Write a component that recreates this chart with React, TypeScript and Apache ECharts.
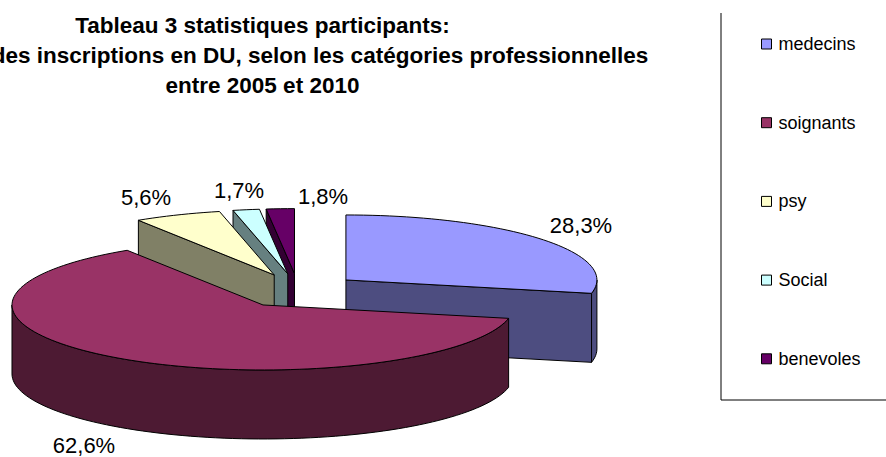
import React, { useEffect, useRef } from "react";
import * as echarts from "echarts";

const categories = ["medecins", "soignants", "psy", "Social", "benevoles"];
const percents = [28.3, 62.6, 5.6, 1.7, 1.8];
const topColors = ["#9999FF", "#993366", "#FFFFCC", "#CCFFFF", "#660066"];
const wallColors = ["#4D4D80", "#4D1A33", "#808066", "#668080", "#330033"];
const drawOrder = [4, 3, 2, 0, 1];
const labelCenters = [[581, 225], [84, 445.5], [146, 197], [239, 190], [323, 196]];
const titleLines = [
  "Tableau 3 statistiques participants:",
  "des inscriptions en DU, selon les catégories professionnelles",
  "entre 2005 et 2010",
];
const titleCenters = [[262.5, 25], [320, 55], [262.5, 85]];

const FONT = "Liberation Sans";
const CX = 298, CY = 290.8, RX = 251, RY = 65, DEPTH = 69, EXPLODE_X = 61.7, EXPLODE_Y = 17.2;
const total = percents.reduce((a, b) => a + b, 0);
const starts: number[] = [];
percents.reduce((acc, v, i) => { starts[i] = acc; return acc + (v / total) * 360; }, 0);

const rad = (d: number) => (d * Math.PI) / 180;

function renderSlice(i: number) {
  return (_params: any, api: any) => {
    const value = api.value(0) as number;
    const a0 = starts[i];
    const a1 = a0 + (value / total) * 360;
    const mid = (a0 + a1) / 2;
    const cx = CX + EXPLODE_X * Math.sin(rad(mid));
    const cy = CY - EXPLODE_Y * Math.cos(rad(mid));
    const pt = (a: number, dy = 0) => [cx + RX * Math.sin(rad(a)), cy - RY * Math.cos(rad(a)) + dy];
    const arc = (from: number, to: number, dy = 0) => {
      const n = Math.max(2, Math.ceil(Math.abs(to - from) / 2));
      const out: number[][] = [];
      for (let k = 0; k <= n; k++) out.push(pt(from + ((to - from) * k) / n, dy));
      return out;
    };
    const stroke = { stroke: "#000", lineWidth: 1, lineJoin: "round" };
    const wall = { ...stroke, fill: wallColors[i] };
    const children: any[] = [];
    const quad = (a: number) => ({
      type: "polygon",
      shape: { points: [[cx, cy], pt(a), pt(a, DEPTH), [cx, cy + DEPTH]] },
      style: wall,
    });
    const s = Math.sin(rad(a0));
    const e = Math.sin(rad(a1));
    if (s < 0) children.push(quad(a0));
    if (e > 0) children.push(quad(a1));
    const wa0 = Math.max(a0, 90), wa1 = Math.min(a1, 270);
    if (wa1 > wa0) {
      children.push({
        type: "polygon",
        shape: { points: [...arc(wa0, wa1), ...arc(wa1, wa0, DEPTH)] },
        style: wall,
      });
    }
    children.push({
      type: "polygon",
      shape: { points: [[cx, cy], ...arc(a0, a1)] },
      style: { ...stroke, fill: topColors[i] },
    });
    children.push({
      type: "text",
      style: {
        x: labelCenters[i][0],
        y: labelCenters[i][1],
        text: value.toFixed(1).replace(".", ",") + "%",
        fill: "#000",
        font: `22px "${FONT}"`,
        textAlign: "center",
        textVerticalAlign: "middle",
      },
    });
    return { type: "group", children };
  };
}

export default function App() {
  const ref = useRef<HTMLDivElement>(null);
  useEffect(() => {
    document.body.style.margin = "0";
    const chart = echarts.init(ref.current!, undefined, { renderer: "svg" });
    chart.setOption({
      animation: false,
      backgroundColor: "#fff",
      legend: {
        orient: "vertical",
        left: 756,
        top: 30,
        itemWidth: 10,
        itemHeight: 10,
        itemGap: 60.7,
        icon: "rect",
        selectedMode: false,
        data: categories,
        itemStyle: { borderColor: "#000", borderWidth: 1 },
        textStyle: { fontFamily: FONT, fontSize: 18, color: "#000", padding: [0, 0, 0, 2] },
      },
      graphic: [
        { type: "polyline", silent: true, shape: { points: [[721, 13], [721, 400], [886, 400]] }, style: { stroke: "#000", lineWidth: 1, fill: "none" } },
        ...titleLines.map((text, i) => ({
          type: "text",
          silent: true,
          style: {
            x: titleCenters[i][0],
            y: titleCenters[i][1],
            text,
            fill: "#000",
            font: `bold 22.5px "${FONT}"`,
            textAlign: "center",
            textVerticalAlign: "middle",
          },
        })),
      ],
      series: drawOrder.map((i) => ({
        type: "custom",
        name: categories[i],
        coordinateSystem: "none",
        silent: true,
        itemStyle: { color: topColors[i] },
        data: [percents[i]],
        renderItem: renderSlice(i),
      })),
    });
    return () => chart.dispose();
  }, []);
  return <div ref={ref} style={{ width: 886, height: 457 }} />;
}
